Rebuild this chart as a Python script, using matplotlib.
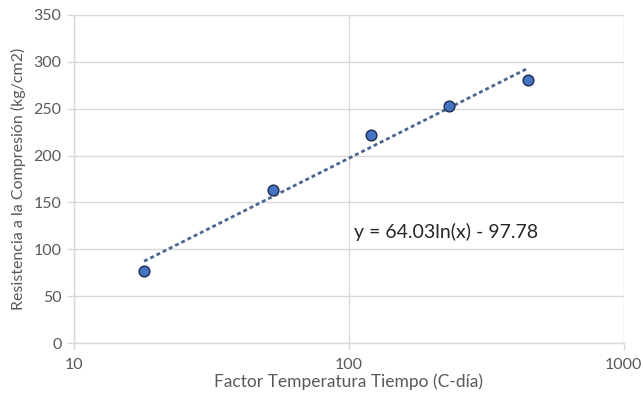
import numpy as np
import matplotlib
matplotlib.use("Agg")
import matplotlib.pyplot as plt
from matplotlib.ticker import FixedLocator, NullLocator, FuncFormatter

plt.rcParams['font.family'] = ['Lato', 'DejaVu Sans']

# Maturity factor (C-día) and compressive strength (kg/cm2)
factor = [18, 53, 120, 231, 449]
resistencia = [77, 163, 222, 253, 281]

# Logarithmic trend line coefficients
coef_a = 64.03
coef_b = -97.78

x_ticks = [10, 100, 1000]
y_ticks = [0, 50, 100, 150, 200, 250, 300, 350]

fig = plt.figure(figsize=(6.43, 3.94), dpi=100)
ax = fig.add_axes([0.115, 0.1294, 0.855, 0.8326])

ax.set_xscale('log')
ax.set_xlim(10, 1000)
ax.set_ylim(0, 350)

grid_c = '#d9d9d9'
text_c = '#595959'

ax.xaxis.set_major_locator(FixedLocator(x_ticks))
ax.xaxis.set_minor_locator(NullLocator())
ax.xaxis.set_major_formatter(FuncFormatter(lambda v, p: f"{v:g}"))
ax.yaxis.set_major_locator(FixedLocator(y_ticks))

ax.grid(True, color=grid_c, linewidth=1.0)
ax.set_axisbelow(True)
for side in ['top', 'right']:
    ax.spines[side].set_visible(False)
for side in ['left', 'bottom']:
    ax.spines[side].set_color(grid_c)
    ax.spines[side].set_linewidth(1.0)

ax.tick_params(axis='both', colors=grid_c, length=5, width=1.0,
               labelcolor=text_c, labelsize=11.5)
ax.tick_params(axis='x', pad=6)
ax.tick_params(axis='y', pad=4)

# Trend line over the data range
xt = np.array([min(factor), max(factor)], dtype=float)
yt = coef_a * np.log(xt) + coef_b
ax.plot(xt, yt, color='#4a6690', linewidth=2.0, linestyle=(0, (1.4, 1.1)),
        zorder=2)

ax.scatter(factor, resistencia, s=60, color='#4472c4', edgecolor='#1f2d4a',
           linewidth=1.0, zorder=3)

ax.text(104, 118, f"y = {coef_a:.2f}ln(x) - {abs(coef_b):.2f}",
        fontsize=14, color='#262626', va='center', ha='left')

ax.set_xlabel('Factor Temperatura Tiempo (C-día)', color=text_c, fontsize=12.5,
              labelpad=1)
ax.set_ylabel('Resistencia a la Compresión (kg/cm2)', color=text_c,
              fontsize=11.5, labelpad=5)

fig.savefig('out.png', dpi=100)
